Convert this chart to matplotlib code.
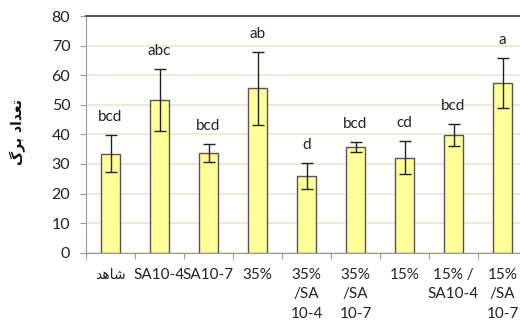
import matplotlib
matplotlib.use("Agg")
import matplotlib.pyplot as plt
import numpy as np

# Arabic/Persian text pre-shaped (presentation forms, visual order)
categories = ["\uFEAA\uFEEB\uFE8E\uFEB7", "SA10-4", "SA10-7", "35%",
              "35%\n/SA\n10-4", "35%\n/SA\n10-7", "15%",
              "15% /\nSA10-4", "15%\n/SA\n10-7"]
means = [33.5, 51.6, 33.6, 55.5, 25.9, 35.8, 32.1, 39.8, 57.4]
errors = [6.3, 10.4, 3.0, 12.4, 4.5, 1.7, 5.6, 3.7, 8.4]
letters = ["bcd", "abc", "bcd", "ab", "d", "bcd", "cd", "bcd", "a"]
ylabel = "\uFB92\uFEAE\uFE91 \uFEA9\uFE8D\uFEAA\uFECC\uFE97"

plt.rcParams['font.family'] = ['Lato', 'DejaVu Sans']

fig = plt.figure(figsize=(5.2, 3.2), dpi=100)
ax = fig.add_axes([86/520, 1-252.7/320, 441/520, (252.7-16)/320])

x = np.arange(len(categories))
ax.bar(x, means, width=0.4, color="#FFFF99", edgecolor="#555555", linewidth=1.0, zorder=3)
ax.errorbar(x, means, yerr=errors, fmt="none", ecolor="#222222", elinewidth=1.0,
            capsize=4, capthick=1.0, zorder=4)

for xi, m, e, lab in zip(x, means, errors, letters):
    ax.annotate(lab, (xi, m + e), xytext=(0, 18), textcoords="offset pixels",
                ha="center", va="center", fontsize=11, color="#222222")

ax.set_xlim(-0.5, len(categories) - 0.5)
ax.set_ylim(0, 80)
ax.set_yticks(np.arange(0, 81, 10))
ax.yaxis.grid(True, color="#E6E8D2", linewidth=1.2, zorder=0)
ax.set_axisbelow(True)

ax.set_xticks(x)
ax.set_xticklabels(categories, fontsize=11, color="#222222", linespacing=1.5,
                   va="top")
ax.tick_params(axis="x", which="major", length=0, pad=11)
ax.set_xticks(np.arange(-0.5, len(categories), 1), minor=True)
ax.tick_params(axis="x", which="minor", length=4, color="#999999", width=0.8)
for t in ax.get_xticklabels():
    if t.get_text() == categories[0]:
        t.set_family(['DejaVu Sans'])
        t.set_fontsize(10)
ax.tick_params(axis="y", length=4.3, color="#999999", width=0.8, labelsize=11.5,
               labelcolor="#222222", pad=7)

for s in ["left", "bottom"]:
    ax.spines[s].set_color("#999999")
    ax.spines[s].set_linewidth(0.8)
ax.spines["top"].set_color("#555555")
ax.spines["top"].set_linewidth(1.4)
ax.spines["right"].set_visible(False)

fig.text(18/520, 1-132/320, ylabel, rotation=90, ha="center", va="center",
         fontsize=10, fontweight="bold", family=['DejaVu Sans'], color="#111111")

fig.savefig("out.png", dpi=100)
